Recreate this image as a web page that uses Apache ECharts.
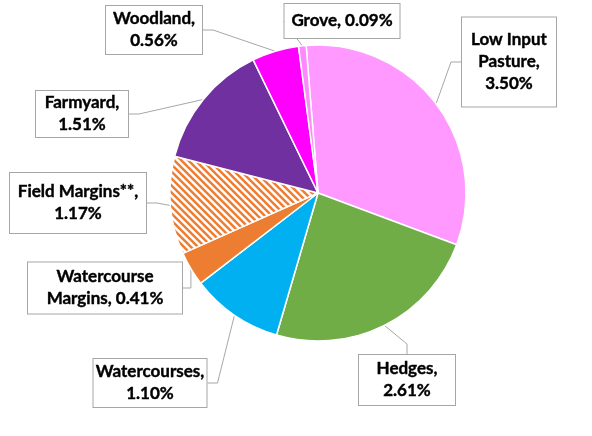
<!DOCTYPE html>
<html lang="en">
<head>
    <meta charset="UTF-8">
    <title>Land use share</title>
    <script src="https://cdn.jsdelivr.net/npm/echarts@6/dist/echarts.min.js"></script>
</head>
<style type="text/css">
    body{
        margin:0;
        background:#fff;
    }
    .pie-chart{
        width: 592px;
        height: 436px;
    }
</style>
<body>
    <div class="pie-chart"></div>
</body>
<script type="text/javascript">
// data (percent of land area)
var categories = ['Low Input\nPasture', 'Hedges', 'Watercourses', 'Watercourse\nMargins', 'Field Margins**', 'Farmyard', 'Woodland', 'Grove'];
var values = [3.50, 2.61, 1.10, 0.41, 1.17, 1.51, 0.56, 0.09];
var colors = ['#FF99FF', '#70AD47', '#00B0F0', '#ED7D31', 'hatch', '#7030A0', '#FF00FF', '#FF88FF'];
// labels that keep name and value on one line
var oneLine = ['Watercourse\nMargins', 'Grove'];

// callout boxes: centre x, centre y, width, height
var boxes = [
    [509, 62, 96, 89],
    [407, 380, 98, 50],
    [150, 383, 115, 48],
    [105, 288, 156, 51],
    [78, 203, 138, 60],
    [82, 114, 94, 46],
    [154, 30, 98, 48],
    [342, 21, 117, 34]
];

function hatch() {
    var n = 7;
    var c = document.createElement('canvas');
    c.width = n;
    c.height = n;
    var ctx = c.getContext('2d');
    ctx.fillStyle = '#fff';
    ctx.fillRect(0, 0, n, n);
    ctx.strokeStyle = '#ED7D31';
    ctx.lineWidth = 2.5;
    [-n, 0, n].forEach(function(o) {
        ctx.beginPath();
        ctx.moveTo(o - 1, -1);
        ctx.lineTo(o + n + 1, n + 1);
        ctx.stroke();
    });
    return c;
}

var LH = 22;
var data = categories.map(function(name, i) {
    var lines = name.split('\n').length + (oneLine.indexOf(name) >= 0 ? 0 : 1);
    var b = boxes[i];
    var padV = Math.max(0, (b[3] - lines * LH) / 2);
    var col = colors[i] === 'hatch' ? { image: hatch(), repeat: 'repeat' } : colors[i];
    return {
        name: name,
        value: values[i],
        itemStyle: { color: col },
        label: {
            width: b[2] - 2,
            padding: [padV, 0, padV, 0]
        }
    };
});

var chart = echarts.init(document.querySelector('.pie-chart'), null, { renderer: 'canvas' });
chart.setOption({
    animation: false,
    series: [{
        type: 'pie',
        center: [318, 193],
        radius: 148,
        startAngle: 94.6,
        clockwise: true,
        data: data,
        itemStyle: {
            borderColor: '#fff',
            borderWidth: 1.5
        },
        label: {
            show: true,
            fontFamily: 'Lato',
            fontWeight: 'bold',
            fontSize: 17,
            lineHeight: LH,
            color: '#000',
            textBorderColor: '#000',
            textBorderWidth: 0.4,
            align: 'center',
            backgroundColor: '#fff',
            borderColor: '#A6A6A6',
            borderWidth: 1,
            formatter: function(p) {
                var sep = oneLine.indexOf(p.name) >= 0 ? ', ' : ',\n';
                return p.name + sep + p.value.toFixed(2) + '%';
            }
        },
        labelLine: {
            show: true,
            length: 10,
            length2: 10,
            lineStyle: { color: '#A6A6A6', width: 1 }
        },
        labelLayout: function(params) {
            var b = boxes[params.dataIndex];
            return {
                x: b[0],
                y: b[1],
                align: 'center',
                verticalAlign: 'middle'
            };
        }
    }]
});
</script>
</html>
